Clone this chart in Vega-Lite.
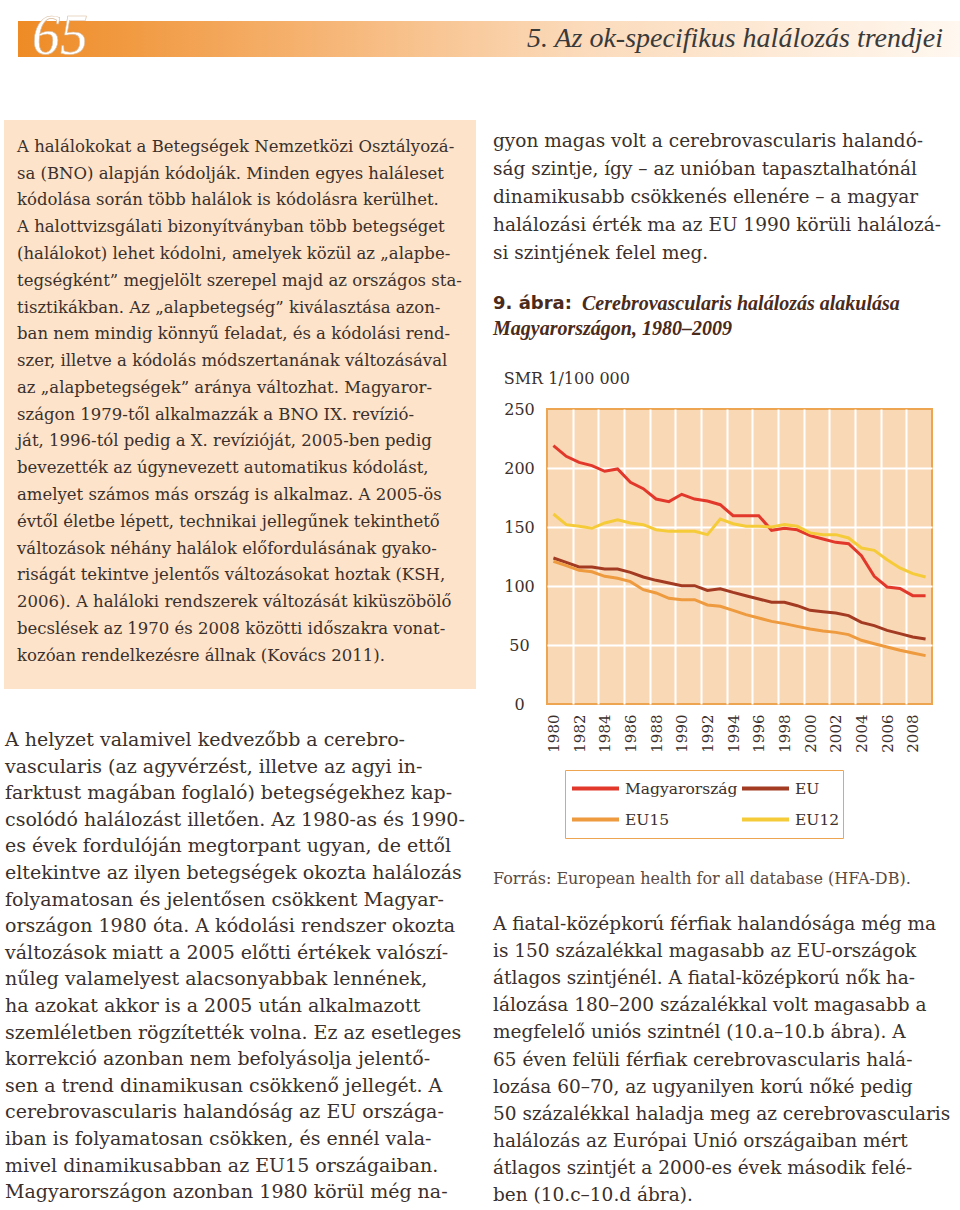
{
 "$schema": "https://vega.github.io/schema/vega-lite/v6.json",
 "padding": {"left": 4, "top": 9, "right": 0, "bottom": 0},
 "background": "white",
 "config": {"view": {"stroke": null}},
 "spacing": 55,
 "resolve": {"scale": {"color": "independent"}, "legend": {"color": "independent"}},
 "vconcat": [
  {
   "width": 956, "height": 36,
   "data": {"values": [{"k": "band"}]},
   "layer": [
    {"mark": {"type": "rect", "color": {"gradient": "linear", "x1": 0, "y1": 0, "x2": 1, "y2": 0, "stops": [{"offset": 0, "color": "#ffffff"}, {"offset": 0.0145, "color": "#ffffff"}, {"offset": 0.0146, "color": "#EE8B25"}, {"offset": 0.3, "color": "#F5B06C"}, {"offset": 0.6, "color": "#FBDABA"}, {"offset": 1, "color": "#FFF8F0"}]}},
     "encoding": {"x": {"datum": 0, "type": "quantitative", "scale": {"domain": [0, 1]}, "axis": null}, "x2": {"datum": 1}}},
    {"mark": {"type": "text", "text": "65", "font": "Liberation Serif", "fontStyle": "italic", "fontSize": 56, "color": "white", "stroke": "#D8B898", "strokeWidth": 0.6, "align": "left", "baseline": "alphabetic", "dx": 28, "dy": 15},
     "encoding": {"x": {"datum": 0, "type": "quantitative"}}},
    {"mark": {"type": "text", "text": "5. Az ok-specifikus halálozás trendjei", "font": "Liberation Serif", "fontStyle": "italic", "fontSize": 28, "color": "#3a3a3a", "align": "right", "baseline": "middle", "dx": -17},
     "encoding": {"x": {"datum": 1, "type": "quantitative"}}}
   ]
  },
  {
   "spacing": 17,
   "resolve": {"scale": {"color": "independent"}, "legend": {"color": "independent"}},
   "hconcat": [
    {
     "spacing": 0,
     "vconcat": [
      {
       "width": 472, "height": 569,
       "view": {"fill": "#FCE3CA", "stroke": null},
       "data": {"values": [
        {"line": 1, "t": "A halálokokat a Betegségek Nemzetközi Osztályozá-"},
        {"line": 2, "t": "sa (BNO) alapján kódolják. Minden egyes haláleset"},
        {"line": 3, "t": "kódolása során több halálok is kódolásra kerülhet."},
        {"line": 4, "t": "A halottvizsgálati bizonyítványban több betegséget"},
        {"line": 5, "t": "(halálokot) lehet kódolni, amelyek közül az „alapbe-"},
        {"line": 6, "t": "tegségként” megjelölt szerepel majd az országos sta-"},
        {"line": 7, "t": "tisztikákban. Az „alapbetegség” kiválasztása azon-"},
        {"line": 8, "t": "ban nem mindig könnyű feladat, és a kódolási rend-"},
        {"line": 9, "t": "szer, illetve a kódolás módszertanának változásával"},
        {"line": 10, "t": "az „alapbetegségek” aránya változhat. Magyaror-"},
        {"line": 11, "t": "szágon 1979-től alkalmazzák a BNO IX. revízió-"},
        {"line": 12, "t": "ját, 1996-tól pedig a X. revízióját, 2005-ben pedig"},
        {"line": 13, "t": "bevezették az úgynevezett automatikus kódolást,"},
        {"line": 14, "t": "amelyet számos más ország is alkalmaz. A 2005-ös"},
        {"line": 15, "t": "évtől életbe lépett, technikai jellegűnek tekinthető"},
        {"line": 16, "t": "változások néhány halálok előfordulásának gyako-"},
        {"line": 17, "t": "riságát tekintve jelentős változásokat hoztak (KSH,"},
        {"line": 18, "t": "2006). A haláloki rendszerek változását kiküszöbölő"},
        {"line": 19, "t": "becslések az 1970 és 2008 közötti időszakra vonat-"},
        {"line": 20, "t": "kozóan rendelkezésre állnak (Kovács 2011)."}
       ]},
       "mark": {"type": "text", "align": "left", "baseline": "middle", "font": "DejaVu Serif", "fontSize": 16.5, "color": "#3b302b", "dx": 13},
       "encoding": {
        "x": {"value": 0},
        "y": {"field": "line", "type": "quantitative", "scale": {"domain": [0, 21.24], "reverse": true, "nice": false, "zero": false}, "axis": null},
        "text": {"field": "t"}
       }
      },
      {
       "width": 472, "height": 520,
       "data": {"values": [
        {"line": 1, "t": "A helyzet valamivel kedvezőbb a cerebro-"},
        {"line": 2, "t": "vascularis (az agyvérzést, illetve az agyi in-"},
        {"line": 3, "t": "farktust magában foglaló) betegségekhez kap-"},
        {"line": 4, "t": "csolódó halálozást illetően. Az 1980-as és 1990-"},
        {"line": 5, "t": "es évek fordulóján megtorpant ugyan, de ettől"},
        {"line": 6, "t": "eltekintve az ilyen betegségek okozta halálozás"},
        {"line": 7, "t": "folyamatosan és jelentősen csökkent Magyar-"},
        {"line": 8, "t": "országon 1980 óta. A kódolási rendszer okozta"},
        {"line": 9, "t": "változások miatt a 2005 előtti értékek valószí-"},
        {"line": 10, "t": "nűleg valamelyest alacsonyabbak lennének,"},
        {"line": 11, "t": "ha azokat akkor is a 2005 után alkalmazott"},
        {"line": 12, "t": "szemléletben rögzítették volna. Ez az esetleges"},
        {"line": 13, "t": "korrekció azonban nem befolyásolja jelentő-"},
        {"line": 14, "t": "sen a trend dinamikusan csökkenő jellegét. A"},
        {"line": 15, "t": "cerebrovascularis halandóság az EU országa-"},
        {"line": 16, "t": "iban is folyamatosan csökken, és ennél vala-"},
        {"line": 17, "t": "mivel dinamikusabban az EU15 országaiban."},
        {"line": 18, "t": "Magyarországon azonban 1980 körül még na-"}
       ]},
       "mark": {"type": "text", "align": "left", "baseline": "middle", "font": "DejaVu Serif", "fontSize": 19, "color": "#3b302b", "dx": 1},
       "encoding": {
        "x": {"value": 0},
        "y": {"field": "line", "type": "quantitative", "scale": {"domain": [-0.917, 18.63], "reverse": true, "nice": false, "zero": false}, "axis": null},
        "text": {"field": "t"}
       }
      }
     ]
    },
    {
     "spacing": 0,
     "resolve": {"scale": {"color": "independent"}, "legend": {"color": "independent"}},
     "vconcat": [
      {
       "width": 467, "height": 164,
       "data": {"values": [
        {"line": 1, "t": "gyon magas volt a cerebrovascularis halandó-"},
        {"line": 2, "t": "ság szintje, így – az unióban tapasztalhatónál"},
        {"line": 3, "t": "dinamikusabb csökkenés ellenére – a magyar"},
        {"line": 4, "t": "halálozási érték ma az EU 1990 körüli halálozá-"},
        {"line": 5, "t": "si szintjének felel meg."}
       ]},
       "mark": {"type": "text", "align": "left", "baseline": "middle", "font": "DejaVu Serif", "fontSize": 18.5, "color": "#3b302b"},
       "encoding": {
        "x": {"value": 0},
        "y": {"field": "line", "type": "quantitative", "scale": {"domain": [0.25, 6.107], "reverse": true, "nice": false, "zero": false}, "axis": null},
        "text": {"field": "t"}
       }
      },
      {
       "width": 467, "height": 86,
       "data": {"values": [
        {"line": 1, "part": "a", "t": "9. ábra:"},
        {"line": 1, "part": "b", "t": "Cerebrovascularis halálozás alakulása"},
        {"line": 2, "part": "c", "t": "Magyarországon, 1980–2009"}
       ]},
       "encoding": {
        "x": {"value": 0},
        "y": {"field": "line", "type": "quantitative", "scale": {"domain": [0.2, 3.64], "reverse": true, "nice": false, "zero": false}, "axis": null},
        "text": {"field": "t"}
       },
       "layer": [
        {"transform": [{"filter": "datum.part === 'a'"}], "mark": {"type": "text", "align": "left", "baseline": "middle", "font": "DejaVu Sans", "fontWeight": "bold", "fontSize": 18, "color": "#4a2a1a"}},
        {"transform": [{"filter": "datum.part === 'b'"}], "mark": {"type": "text", "align": "left", "baseline": "middle", "font": "Liberation Serif", "fontWeight": "bold", "fontStyle": "italic", "fontSize": 20, "color": "#4a2a1a", "dx": 89}},
        {"transform": [{"filter": "datum.part === 'c'"}], "mark": {"type": "text", "align": "left", "baseline": "middle", "font": "Liberation Serif", "fontWeight": "bold", "fontStyle": "italic", "fontSize": 20, "color": "#4a2a1a"}}
       ]
      },
      {
       "spacing": 8,
       "resolve": {"scale": {"color": "independent"}, "legend": {"color": "independent"}},
       "hconcat": [
        {"width": 1, "height": 10, "data": {"values": [{}]}, "mark": {"type": "text", "text": ""}},
        {
         "width": 385, "height": 295,
         "view": {"fill": "#F9D8B6", "stroke": "#EEA552", "strokeWidth": 2},
         "title": {"text": "SMR 1/100 000", "anchor": "start", "frame": "bounds", "font": "DejaVu Serif", "fontSize": 16, "fontWeight": "normal", "color": "#3b302b", "offset": 14},
         "data": {"values": [
          {"year": 1980, "s": "Magyarország", "v": 218.9}, {"year": 1981, "s": "Magyarország", "v": 209.9}, {"year": 1982, "s": "Magyarország", "v": 204.8}, {"year": 1983, "s": "Magyarország", "v": 202.0}, {"year": 1984, "s": "Magyarország", "v": 197.2}, {"year": 1985, "s": "Magyarország", "v": 199.2}, {"year": 1986, "s": "Magyarország", "v": 187.9}, {"year": 1987, "s": "Magyarország", "v": 182.5}, {"year": 1988, "s": "Magyarország", "v": 173.7}, {"year": 1989, "s": "Magyarország", "v": 171.5}, {"year": 1990, "s": "Magyarország", "v": 177.7}, {"year": 1991, "s": "Magyarország", "v": 173.7}, {"year": 1992, "s": "Magyarország", "v": 172.0}, {"year": 1993, "s": "Magyarország", "v": 168.9}, {"year": 1994, "s": "Magyarország", "v": 159.6}, {"year": 1995, "s": "Magyarország", "v": 159.6}, {"year": 1996, "s": "Magyarország", "v": 159.6}, {"year": 1997, "s": "Magyarország", "v": 147.2}, {"year": 1998, "s": "Magyarország", "v": 148.9}, {"year": 1999, "s": "Magyarország", "v": 147.6}, {"year": 2000, "s": "Magyarország", "v": 142.7}, {"year": 2001, "s": "Magyarország", "v": 139.8}, {"year": 2002, "s": "Magyarország", "v": 137.0}, {"year": 2003, "s": "Magyarország", "v": 135.9}, {"year": 2004, "s": "Magyarország", "v": 125.7}, {"year": 2005, "s": "Magyarország", "v": 108.2}, {"year": 2006, "s": "Magyarország", "v": 99.2}, {"year": 2007, "s": "Magyarország", "v": 97.9}, {"year": 2008, "s": "Magyarország", "v": 91.8}, {"year": 2009, "s": "Magyarország", "v": 91.8},
          {"year": 1980, "s": "EU", "v": 123.7}, {"year": 1981, "s": "EU", "v": 120.0}, {"year": 1982, "s": "EU", "v": 116.1}, {"year": 1983, "s": "EU", "v": 116.1}, {"year": 1984, "s": "EU", "v": 114.4}, {"year": 1985, "s": "EU", "v": 114.4}, {"year": 1986, "s": "EU", "v": 111.6}, {"year": 1987, "s": "EU", "v": 107.6}, {"year": 1988, "s": "EU", "v": 104.8}, {"year": 1989, "s": "EU", "v": 102.5}, {"year": 1990, "s": "EU", "v": 100.3}, {"year": 1991, "s": "EU", "v": 100.3}, {"year": 1992, "s": "EU", "v": 96.3}, {"year": 1993, "s": "EU", "v": 97.7}, {"year": 1994, "s": "EU", "v": 94.6}, {"year": 1995, "s": "EU", "v": 91.8}, {"year": 1996, "s": "EU", "v": 89.0}, {"year": 1997, "s": "EU", "v": 86.2}, {"year": 1998, "s": "EU", "v": 86.2}, {"year": 1999, "s": "EU", "v": 83.3}, {"year": 2000, "s": "EU", "v": 79.4}, {"year": 2001, "s": "EU", "v": 78.2}, {"year": 2002, "s": "EU", "v": 77.1}, {"year": 2003, "s": "EU", "v": 74.9}, {"year": 2004, "s": "EU", "v": 69.2}, {"year": 2005, "s": "EU", "v": 66.4}, {"year": 2006, "s": "EU", "v": 62.4}, {"year": 2007, "s": "EU", "v": 59.6}, {"year": 2008, "s": "EU", "v": 56.8}, {"year": 2009, "s": "EU", "v": 55.1},
          {"year": 1980, "s": "EU15", "v": 120.9}, {"year": 1981, "s": "EU15", "v": 117.2}, {"year": 1982, "s": "EU15", "v": 113.3}, {"year": 1983, "s": "EU15", "v": 112.1}, {"year": 1984, "s": "EU15", "v": 108.2}, {"year": 1985, "s": "EU15", "v": 106.5}, {"year": 1986, "s": "EU15", "v": 103.7}, {"year": 1987, "s": "EU15", "v": 96.9}, {"year": 1988, "s": "EU15", "v": 94.1}, {"year": 1989, "s": "EU15", "v": 89.6}, {"year": 1990, "s": "EU15", "v": 88.4}, {"year": 1991, "s": "EU15", "v": 88.4}, {"year": 1992, "s": "EU15", "v": 83.9}, {"year": 1993, "s": "EU15", "v": 82.8}, {"year": 1994, "s": "EU15", "v": 79.4}, {"year": 1995, "s": "EU15", "v": 75.7}, {"year": 1996, "s": "EU15", "v": 72.9}, {"year": 1997, "s": "EU15", "v": 70.0}, {"year": 1998, "s": "EU15", "v": 68.1}, {"year": 1999, "s": "EU15", "v": 65.8}, {"year": 2000, "s": "EU15", "v": 63.6}, {"year": 2001, "s": "EU15", "v": 61.9}, {"year": 2002, "s": "EU15", "v": 60.7}, {"year": 2003, "s": "EU15", "v": 58.8}, {"year": 2004, "s": "EU15", "v": 54.0}, {"year": 2005, "s": "EU15", "v": 51.1}, {"year": 2006, "s": "EU15", "v": 48.3}, {"year": 2007, "s": "EU15", "v": 45.5}, {"year": 2008, "s": "EU15", "v": 43.2}, {"year": 2009, "s": "EU15", "v": 41.0},
          {"year": 1980, "s": "EU12", "v": 161.0}, {"year": 1981, "s": "EU12", "v": 152.0}, {"year": 1982, "s": "EU12", "v": 150.6}, {"year": 1983, "s": "EU12", "v": 148.9}, {"year": 1984, "s": "EU12", "v": 153.4}, {"year": 1985, "s": "EU12", "v": 156.2}, {"year": 1986, "s": "EU12", "v": 153.4}, {"year": 1987, "s": "EU12", "v": 152.0}, {"year": 1988, "s": "EU12", "v": 147.7}, {"year": 1989, "s": "EU12", "v": 146.3}, {"year": 1990, "s": "EU12", "v": 146.3}, {"year": 1991, "s": "EU12", "v": 146.3}, {"year": 1992, "s": "EU12", "v": 143.5}, {"year": 1993, "s": "EU12", "v": 156.8}, {"year": 1994, "s": "EU12", "v": 152.8}, {"year": 1995, "s": "EU12", "v": 150.6}, {"year": 1996, "s": "EU12", "v": 150.6}, {"year": 1997, "s": "EU12", "v": 150.0}, {"year": 1998, "s": "EU12", "v": 152.0}, {"year": 1999, "s": "EU12", "v": 150.6}, {"year": 2000, "s": "EU12", "v": 145.0}, {"year": 2001, "s": "EU12", "v": 143.5}, {"year": 2002, "s": "EU12", "v": 143.5}, {"year": 2003, "s": "EU12", "v": 140.7}, {"year": 2004, "s": "EU12", "v": 132.2}, {"year": 2005, "s": "EU12", "v": 130.2}, {"year": 2006, "s": "EU12", "v": 122.3}, {"year": 2007, "s": "EU12", "v": 115.3}, {"year": 2008, "s": "EU12", "v": 110.5}, {"year": 2009, "s": "EU12", "v": 107.6}
         ]},
         "encoding": {
          "y": {"field": "v", "type": "quantitative", "scale": {"domain": [0, 250], "nice": false},
                "axis": {"values": [0, 50, 100, 150, 200, 250], "title": null, "domain": false, "ticks": false, "labelFont": "DejaVu Serif", "labelFontSize": 16, "labelColor": "#3b302b", "labelAlign": "center", "labelBaseline": "middle", "labelPadding": 28, "grid": true, "gridWidth": 2, "gridColor": {"condition": {"test": "datum.value === 0 || datum.value === 250", "value": "transparent"}, "value": "#ffffff"}}},
          "color": {"field": "s", "type": "nominal",
                    "scale": {"domain": ["Magyarország", "EU15", "EU", "EU12"], "range": ["#E2382B", "#EE9A3E", "#A33A22", "#F5CB3A"]},
                    "legend": {"title": null, "orient": "none", "legendX": 18, "legendY": 361, "columns": 2, "gridAlign": "all", "symbolType": "stroke", "symbolSize": 2209, "symbolStrokeWidth": 4, "clipHeight": 31, "rowPadding": 0, "columnPadding": 0, "padding": 3, "symbolOffset": 2, "labelOffset": 4, "labelFont": "DejaVu Serif", "labelFontSize": 15.5, "labelColor": "#3b302b", "labelLimit": 200, "strokeColor": "#EEA552", "fillColor": "#ffffff"}}
         },
         "layer": [
          {"transform": [{"filter": "datum.s === 'EU15' || datum.s === 'EU'"}],
           "mark": {"type": "line", "strokeWidth": 3},
           "encoding": {"x": {"field": "year", "type": "quantitative", "scale": {"domain": [1979.5, 2009.5], "nice": false, "zero": false},
                              "axis": {"orient": "top", "values": [1981.5, 1983.5, 1985.5, 1987.5, 1989.5, 1991.5, 1993.5, 1995.5, 1997.5, 1999.5, 2001.5, 2003.5, 2005.5, 2007.5], "labels": false, "ticks": false, "domain": false, "title": null, "grid": true, "gridColor": "#ffffff", "gridWidth": 2}}}},
          {"transform": [{"filter": "datum.s === 'Magyarország' || datum.s === 'EU12'"}],
           "mark": {"type": "line", "strokeWidth": 3},
           "encoding": {"x": {"field": "year", "type": "quantitative", "scale": {"domain": [1979.5, 2009.5], "nice": false, "zero": false},
                              "axis": {"orient": "bottom", "values": [1980, 1982, 1984, 1986, 1988, 1990, 1992, 1994, 1996, 1998, 2000, 2002, 2004, 2006, 2008], "format": "d", "grid": false, "ticks": false, "domain": false, "title": null, "labelAngle": 270, "labelAlign": "right", "labelBaseline": "middle", "labelPadding": 10, "labelFont": "DejaVu Serif", "labelFontSize": 15, "labelColor": "#3b302b"}}}}
         ],
         "resolve": {"axis": {"x": "independent"}}
        }
       ]
      },
      {
       "width": 467, "height": 54,
       "data": {"values": [{"line": 1, "t": "Forrás: European health for all database (HFA-DB)."}]},
       "mark": {"type": "text", "align": "left", "baseline": "middle", "font": "DejaVu Serif", "fontSize": 16, "color": "#5a4a42"},
       "encoding": {
        "x": {"value": 0},
        "y": {"field": "line", "type": "quantitative", "scale": {"domain": [-0.444, 1.556], "reverse": true, "nice": false, "zero": false}, "axis": null},
        "text": {"field": "t"}
       }
      },
      {
       "width": 467, "height": 320,
       "data": {"values": [
        {"line": 1, "t": "A fiatal-középkorú férfiak halandósága még ma"},
        {"line": 2, "t": "is 150 százalékkal magasabb az EU-országok"},
        {"line": 3, "t": "átlagos szintjénél. A fiatal-középkorú nők ha-"},
        {"line": 4, "t": "lálozása 180–200 százalékkal volt magasabb a"},
        {"line": 5, "t": "megfelelő uniós szintnél (10.a–10.b ábra). A"},
        {"line": 6, "t": "65 éven felüli férfiak cerebrovascularis halá-"},
        {"line": 7, "t": "lozása 60–70, az ugyanilyen korú nőké pedig"},
        {"line": 8, "t": "50 százalékkal haladja meg az cerebrovascularis"},
        {"line": 9, "t": "halálozás az Európai Unió országaiban mért"},
        {"line": 10, "t": "átlagos szintjét a 2000-es évek második felé-"},
        {"line": 11, "t": "ben (10.c–10.d ábra)."}
       ]},
       "mark": {"type": "text", "align": "left", "baseline": "middle", "font": "DejaVu Serif", "fontSize": 18.5, "color": "#3b302b"},
       "encoding": {
        "x": {"value": 0},
        "y": {"field": "line", "type": "quantitative", "scale": {"domain": [-0.107, 11.7], "reverse": true, "nice": false, "zero": false}, "axis": null},
        "text": {"field": "t"}
       }
      }
     ]
    }
   ]
  }
 ]
}
